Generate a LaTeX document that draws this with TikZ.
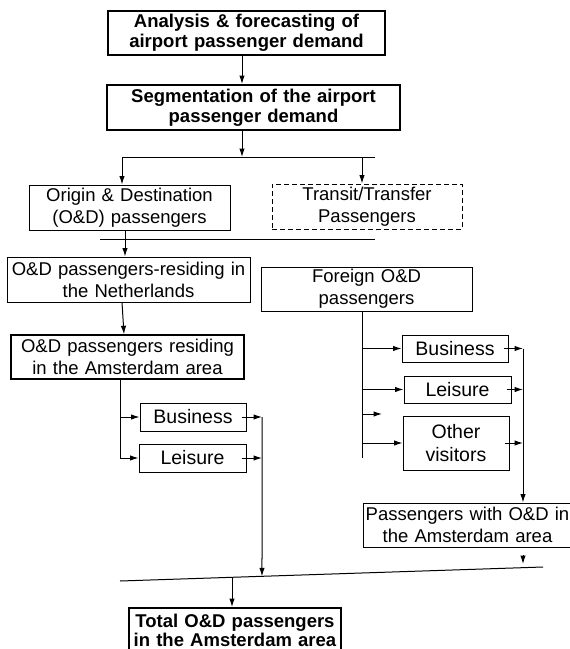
\documentclass[tikz,border=0pt]{standalone}
\usepackage{fontspec}
\setmainfont{Liberation Sans}
\usetikzlibrary{arrows.meta,calc}

\begin{document}
\begin{tikzpicture}[
    x=1pt, y=-1pt,
    % Box styles
    plainbox/.style={draw, line width=1pt, inner sep=0pt, align=center,
        font=\fontsize{18.5}{22}\selectfont},
    mainbox/.style={plainbox, line width=2pt, font=\fontsize{18.5}{20}\bfseries},
    dashbox/.style={plainbox, dash pattern=on 5pt off 3pt},
    smallbox/.style={plainbox, font=\fontsize{19.5}{23}\selectfont},
    % Connector styles
    arr/.style={line width=1pt, -{Latex[length=8.5pt,width=5.5pt]}},
    link/.style={line width=1pt}
]
\useasboundingbox (0,0) rectangle (570,649);

% --- TOP ---
\node[mainbox, text width=277pt, minimum height=44pt] (analysis) at (246.5,33)
    {Analysis \& forecasting of\\airport passenger demand};
\node[mainbox, text width=293pt, minimum height=45pt] (segment) at (253.5,107.5)
    {Segmentation of the airport\\passenger demand};

% --- SEGMENTS ---
\node[plainbox, text width=201pt, minimum height=45pt] (od) at (129.5,207.5)
    {Origin \& Destination\\(O\&D) passengers};
\node[dashbox, text width=190pt, minimum height=45pt] (transit) at (367,206.5)
    {Transit/Transfer\\Passengers};
\node[plainbox, text width=243pt, minimum height=45pt] (dutch) at (128.5,279.5)
    {O\&D passengers-residing in\\the Netherlands};
\node[plainbox, text width=211pt, minimum height=44pt] (foreign) at (366.5,289)
    {Foreign O\&D\\passengers};
\node[plainbox, line width=1.4pt, text width=233pt, minimum height=44pt] (amsres) at (127.5,357)
    {O\&D passengers residing\\in the Amsterdam area};

% --- PURPOSES ---
\node[smallbox, text width=106pt, minimum height=28pt] (busL) at (193,417) {Business};
\node[smallbox, text width=107pt, minimum height=28pt] (leiL) at (192.5,458) {Leisure};
\node[smallbox, text width=106pt, minimum height=27pt] (busR) at (455,348.5) {Business};
\node[smallbox, text width=107pt, minimum height=27pt] (leiR) at (457.5,389.5) {Leisure};
\node[smallbox, text width=106pt, minimum height=54pt] (othR) at (456,443) {Other\\visitors};
\node[plainbox, text width=209pt, minimum height=44pt] (pams) at (467.5,525)
    {Passengers with O\&D in\\the Amsterdam area};

% --- TOTAL ---
\node[mainbox, font=\fontsize{18.5}{19.5}\bfseries, text width=212pt, minimum height=45pt] (total) at (235,630.5)
    {Total O\&D passengers\\in the Amsterdam area};

% --- HELPER POINTS ---
\coordinate (xm) at (242,0);
\coordinate (splitL) at (122,157);
\coordinate (splitR) at (375,157);
\coordinate (xt) at (362,0);
\coordinate (sepL) at (100,239);
\coordinate (sepR) at (375,239);
\coordinate (xd) at (125,0);
\coordinate (xa) at (120,0);
\coordinate (xc) at (262,0);
\coordinate (xf) at (362,0);
\coordinate (fEnd) at (362,458);
\coordinate (fStub) at (362,414);
\coordinate (fStubE) at (382,414);
\coordinate (xr) at (523,0);
\coordinate (rStub) at (523,555);
\coordinate (rTip) at (523,564);
\coordinate (lnA) at (120,581);
\coordinate (lnB) at (543,567);
\coordinate (jL) at ($(lnA)!0.3357!(lnB)$);
\coordinate (jT) at ($(lnA)!0.2648!(lnB)$);

% --- CONNECTORS ---
\draw[arr] (xm |- analysis.south) -- (xm |- segment.north);
\draw[arr] (xm |- segment.south) -- (xm |- splitL);
\draw[link] (splitL) -- (splitR);
\draw[arr] (splitL) -- (splitL |- od.north);
\draw[arr] (xt |- splitL) -- (xt |- transit.north);
\draw[link] (sepL) -- (sepR);
\draw[arr] (xd |- od.south) -- (xd |- dutch.north);
\draw[arr] ([xshift=-6.5pt]dutch.south) -- ([xshift=-3.5pt]amsres.north);

% left branch
\draw[link] (xa |- amsres.south) -- (xa |- leiL.west);
\draw[arr] (xa |- busL.west) -- (busL.west);
\draw[arr] (xa |- leiL.west) -- (leiL.west);
\draw[arr] ([xshift=-5pt]busL.east) -- (xc |- busL.east);
\draw[arr] ([xshift=-5pt]leiL.east) -- (xc |- leiL.east);
\draw[arr] (xc |- busL.east) -- (jL);

% right branch
\draw[link] (xf |- foreign.south) -- (fEnd);
\draw[arr] (xf |- busR.west) -- (busR.west);
\draw[arr] (xf |- leiR.west) -- (leiR.west);
\draw[arr] (fStub) -- (fStubE);
\draw[arr] (xf |- othR.west) -- (othR.west);
\draw[arr] ([xshift=-5pt]busR.east) -- (xr |- busR.east);
\draw[arr] ([xshift=-5pt]leiR.east) -- (xr |- leiR.east);
\draw[arr] ([xshift=-5pt]othR.east) -- (xr |- othR.east);
\draw[arr] (xr |- busR.east) -- (xr |- pams.north);
\draw[arr] (rStub) -- (rTip);

% merge line
\draw[link] (lnA) -- (lnB);
\draw[arr] (jT) -- (jT |- total.north);

\end{tikzpicture}
\end{document}
